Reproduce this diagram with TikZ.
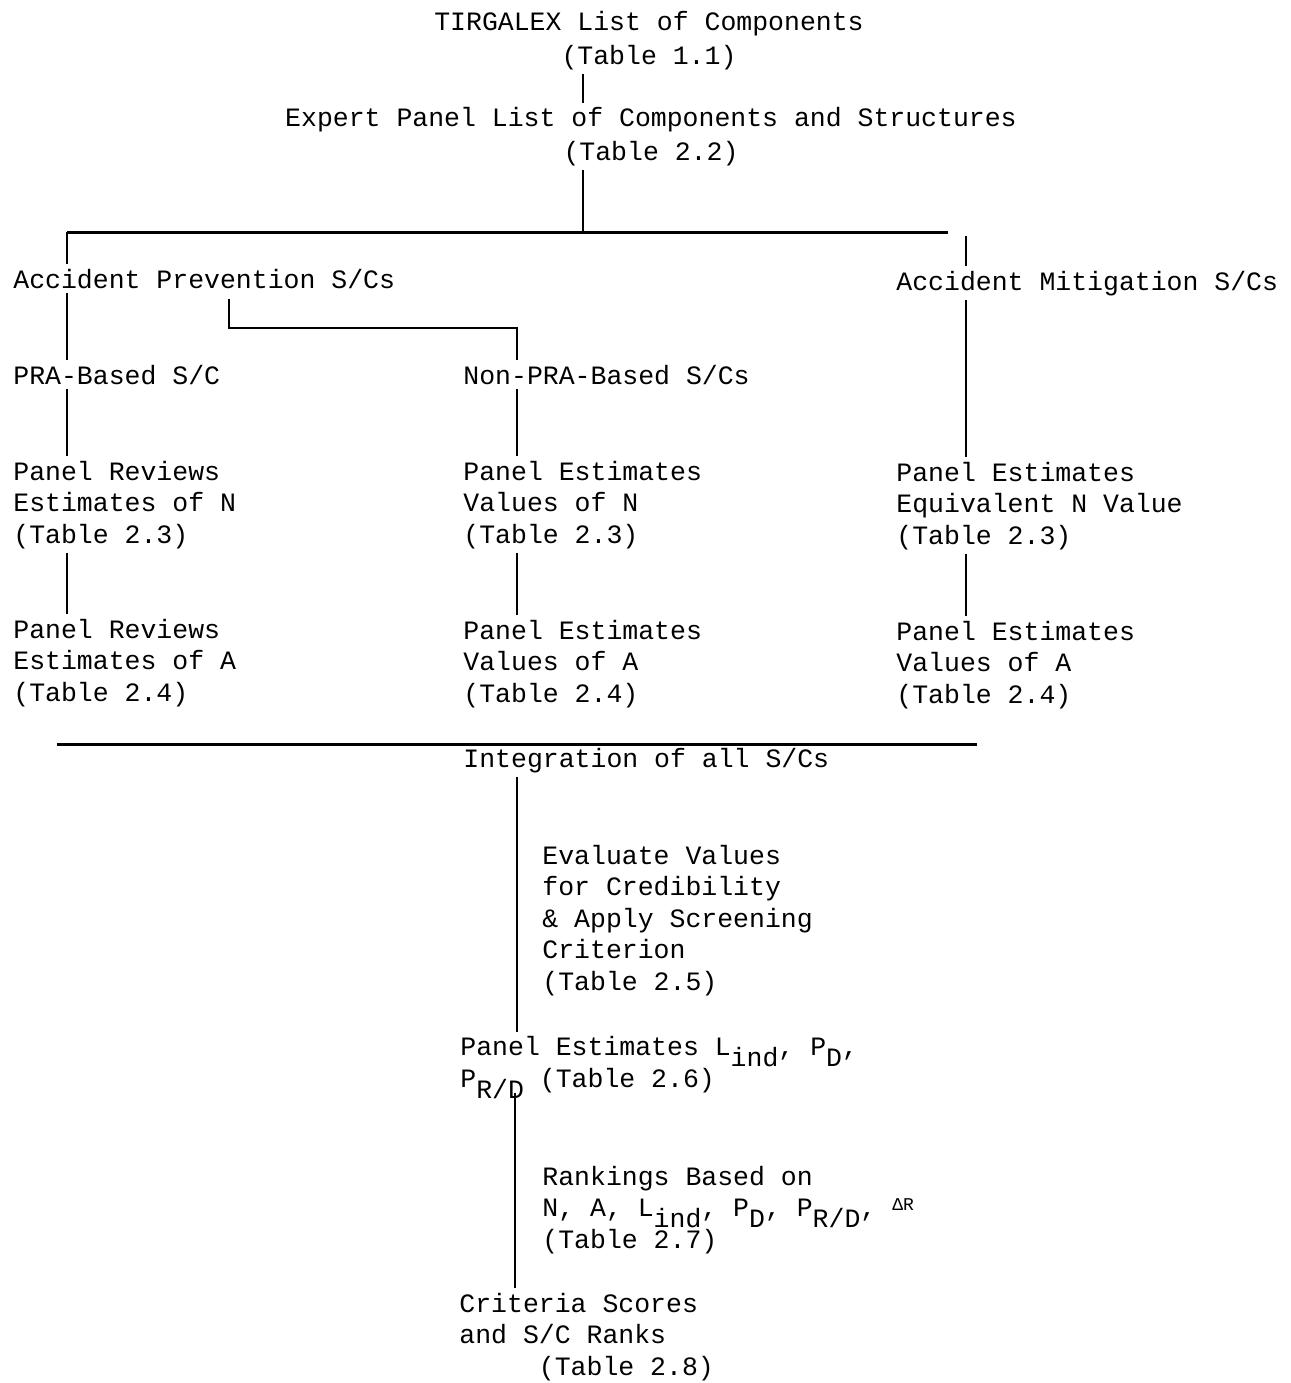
\documentclass[tikz,border=0pt]{standalone}
\usepackage{fontspec}
\setmonofont{Liberation Mono}
\usetikzlibrary{positioning}
\newcommand{\lowr}[1]{\raisebox{-5.5pt}[0pt][0pt]{#1}}

\begin{document}
\begin{tikzpicture}[x=0.5pt, y=-0.5pt,
    chart/.style={inner sep=0pt, font=\ttfamily\fontsize{13.25}{15.75}\selectfont, align=left, anchor=base west},
    head/.style={chart, align=center, anchor=base},
    link/.style={line width=1pt, shorten <=2pt, shorten >=2pt},
    bar/.style={line width=1.5pt}
]
\useasboundingbox (0,0) rectangle (1291,1383);

% columns of the stems
\coordinate (c0) at (583,0);
\coordinate (c1) at (67,0);
\coordinate (c2) at (517,0);
\coordinate (c3) at (966,0);
\coordinate (c5) at (515,0);
\coordinate (split) at (583,232);
\coordinate (barL) at (67,232);
\coordinate (barR) at (948,232);
\coordinate (knee) at (229,328);
\coordinate (bar2L) at (57,744);
\coordinate (bar2R) at (977,744);

% multi-line nodes sit on the baseline of their last line
\node[head] (top) at (649,64) {TIRGALEX List of Components\\[1pt](Table 1.1)};
\node[head] (exp) at (651,160) {Expert Panel List of Components and Structures\\[1pt](Table 2.2)};

\node[chart] (prev) at (13,288) {Accident Prevention S/Cs};
\node[chart] (mit) at (896,290) {Accident Mitigation S/Cs};
\node[chart] (pra) at (13,384) {PRA-Based S/C};
\node[chart] (npra) at (463,384) {Non-PRA-Based S/Cs};

\node[chart] (praN) at (13,543) {Panel Reviews\\Estimates of N\\(Table 2.3)};
\node[chart] (npraN) at (463,543) {Panel Estimates\\Values of N\\(Table 2.3)};
\node[chart] (mitN) at (896,544) {Panel Estimates\\Equivalent N Value\\(Table 2.3)};

\node[chart] (praA) at (13,701) {Panel Reviews\\Estimates of A\\(Table 2.4)};
\node[chart] (npraA) at (463,702) {Panel Estimates\\Values of A\\(Table 2.4)};
\node[chart] (mitA) at (896,703) {Panel Estimates\\Values of A\\(Table 2.4)};

\node[chart] (integ) at (463,767) {Integration of all S/Cs};
\node[chart] (eval) at (542,990) {Evaluate Values\\for Credibility\\\& Apply Screening\\Criterion\\(Table 2.5)};
\node[chart] (lind) at (460,1087) {Panel Estimates L\lowr{ind}, P\lowr{D},\\P\lowr{R/D} (Table 2.6)};
\node[chart] (rank) at (542,1248) {Rankings Based on\\N, A, L\lowr{ind}, P\lowr{D}, P\lowr{R/D}, \raisebox{3pt}{\fontsize{9}{9}\selectfont ΔR}\\(Table 2.7)};
\node[chart] (score) at (459,1375) {Criteria Scores\\and S/C Ranks\\\phantom{Crite}(Table 2.8)};

% connectors
\draw[link] (top.south -| c0) -- (exp.north -| c0);
\draw[link, shorten >=0pt] (exp.south -| c0) -- (split);
\draw[bar] (barL) -- (barR);
\draw[link, shorten <=0pt] (barL) -- (prev.north -| c1);
\draw[link] (barR -| c3) -- (mit.north -| c3);
\draw[link] (prev.south -| c1) -- (pra.north -| c1);
\draw[link, shorten <=5pt] (prev.south -| knee) -- (knee) -| (npra.north -| c2);
\draw[link] (mit.south -| c3) -- (mitN.north -| c3);
\draw[link] (pra.south -| c1) -- (praN.north -| c1);
\draw[link] (npra.south -| c2) -- (npraN.north -| c2);
\draw[link] (praN.south -| c1) -- (praA.north -| c1);
\draw[link] (npraN.south -| c2) -- (npraA.north -| c2);
\draw[link] (mitN.south -| c3) -- (mitA.north -| c3);
\draw[bar] (bar2L) -- (bar2R);
\draw[link] (integ.south -| c2) -- (lind.north -| c2);
\draw[link, shorten <=0pt] (lind.south -| c5) -- (score.north -| c5);
\end{tikzpicture}
\end{document}
